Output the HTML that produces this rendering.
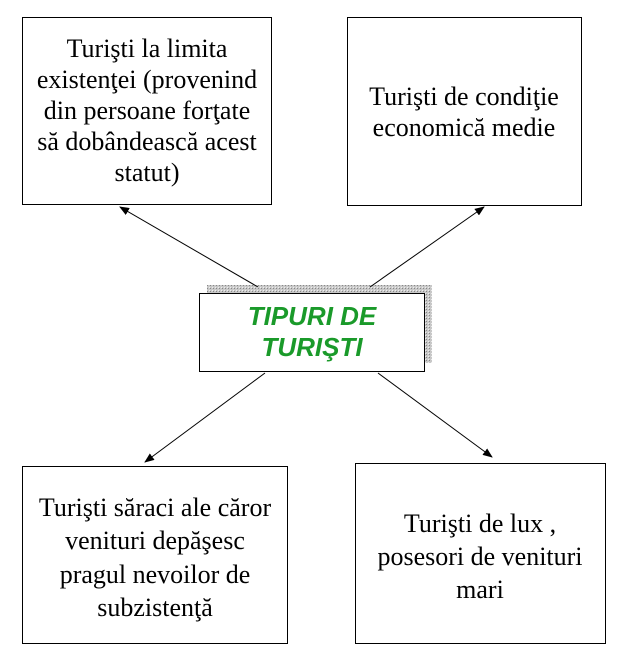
<!DOCTYPE html>
<html><head><meta charset="utf-8"><style>
html,body{margin:0;padding:0;background:#fff;}
svg{display:block;}
.t{font-family:"Liberation Serif",serif;font-size:26px;fill:#000;text-anchor:middle;}
.g{font-family:"Liberation Sans",sans-serif;font-size:26px;font-weight:bold;font-style:italic;fill:#1a9a2a;text-anchor:middle;}
</style></head><body>
<svg width="632" height="672" viewBox="0 0 632 672" xmlns="http://www.w3.org/2000/svg">
<defs>
<marker id="a" markerWidth="10" markerHeight="8" refX="9" refY="4" orient="auto" markerUnits="userSpaceOnUse">
<path d="M0,0 L10,4 L0,8 z" fill="#000"/></marker>
<pattern id="p" width="3" height="3" patternUnits="userSpaceOnUse">
<rect width="3" height="3" fill="#c8c8c8"/><rect width="1" height="1" fill="#888"/><rect x="2" y="2" width="1" height="1" fill="#eee"/></pattern>
</defs>
<rect x="22.5" y="17.5" width="249" height="187" fill="#fff" stroke="#000"/>
<text class="t" x="147" y="57">Turişti la limita</text>
<text class="t" x="147" y="88">existenţei (provenind</text>
<text class="t" x="147" y="119">din persoane forţate</text>
<text class="t" x="147" y="150">să dobândească acest</text>
<text class="t" x="147" y="181">statut)</text>

<rect x="347.5" y="17.5" width="234" height="188" fill="#fff" stroke="#000"/>
<text class="t" x="464" y="105">Turişti de condiţie</text>
<text class="t" x="464" y="136">economică medie</text>

<rect x="207" y="285" width="225" height="78" fill="url(#p)"/>
<rect x="199.5" y="293.5" width="225" height="78" fill="#fff" stroke="#000"/>
<text class="g" x="312" y="325">TIPURI DE</text>
<text class="g" x="312" y="356">TURIŞTI</text>

<line x1="258" y1="287" x2="120" y2="207" stroke="#000" marker-end="url(#a)"/>
<line x1="370" y1="287" x2="484" y2="207" stroke="#000" marker-end="url(#a)"/>
<line x1="265" y1="373" x2="145" y2="462" stroke="#000" marker-end="url(#a)"/>
<line x1="378" y1="373" x2="492" y2="457" stroke="#000" marker-end="url(#a)"/>

<rect x="22.5" y="466.5" width="265" height="177" fill="#fff" stroke="#000"/>
<text class="t" x="155" y="516">Turişti săraci ale căror</text>
<text class="t" x="155" y="549">venituri depăşesc</text>
<text class="t" x="155" y="583">pragul nevoilor de</text>
<text class="t" x="155" y="616">subzistenţă</text>

<rect x="355.5" y="463.5" width="250" height="180" fill="#fff" stroke="#000"/>
<text class="t" x="480" y="532">Turişti de lux ,</text>
<text class="t" x="480" y="565">posesori de venituri</text>
<text class="t" x="480" y="598">mari</text>
</svg>
</body></html>
